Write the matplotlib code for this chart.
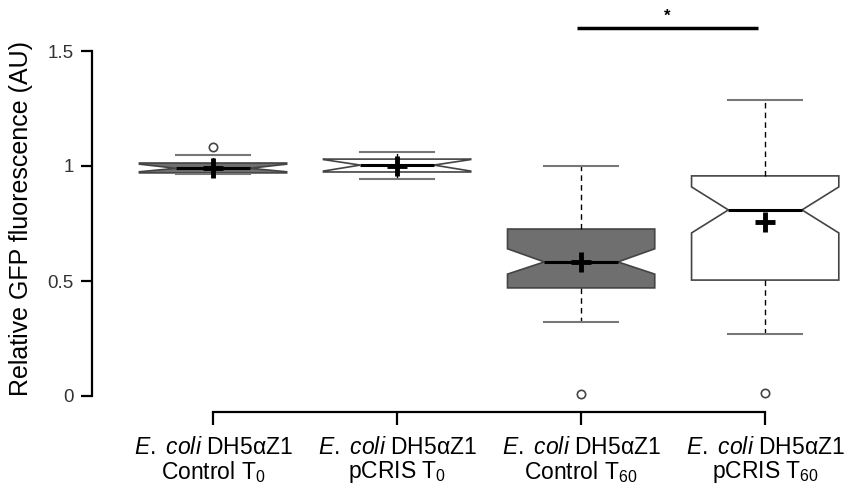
import matplotlib
matplotlib.use("Agg")
import matplotlib.pyplot as plt

plt.rcParams['font.family'] = ['Liberation Sans', 'DejaVu Sans']
plt.rcParams['mathtext.fontset'] = 'custom'
plt.rcParams['mathtext.rm'] = 'Liberation Sans'
plt.rcParams['mathtext.it'] = 'Liberation Sans:italic'

# group labels (x axis)
labels = [r"$\mathit{E.\ coli}$ DH5αZ1" + "\nControl T$_{0}$",
          r"$\mathit{E.\ coli}$ DH5αZ1" + "\npCRIS T$_{0}$",
          r"$\mathit{E.\ coli}$ DH5αZ1" + "\nControl T$_{60}$",
          r"$\mathit{E.\ coli}$ DH5αZ1" + "\npCRIS T$_{60}$"]

# box statistics
medians = [0.990, 1.004, 0.583, 0.809]
q1 = [0.970, 0.974, 0.470, 0.504]
q3 = [1.013, 1.030, 0.726, 0.957]
whislo = [0.965, 0.943, 0.320, 0.270]
whishi = [1.048, 1.060, 1.000, 1.287]
cilo = [0.975, 0.978, 0.530, 0.709]
cihi = [1.008, 1.028, 0.640, 0.909]
means = [0.993, 1.000, 0.583, 0.757]
fliers = [[1.083], [], [0.010], [0.013]]
fills = ['#6f6f6f', 'white', '#6f6f6f', 'white']

stats = []
for i in range(4):
    stats.append(dict(med=medians[i], q1=q1[i], q3=q3[i], whislo=whislo[i],
                      whishi=whishi[i], cilo=cilo[i], cihi=cihi[i],
                      mean=means[i], fliers=fliers[i]))

fig = plt.figure(figsize=(8.48, 4.93), dpi=100)
ax = fig.add_axes([92 / 848, 1 - 412 / 493, 1 - 92 / 848, 412 / 493])

bp = ax.bxp(stats, positions=[1, 2, 3, 4], widths=0.8, shownotches=True,
            showmeans=True, patch_artist=True,
            boxprops=dict(edgecolor='#444444', linewidth=1.2),
            medianprops=dict(color='black', linewidth=2.2),
            whiskerprops=dict(color='black', linewidth=1, linestyle=(0, (4, 3))),
            capprops=dict(color='#777777', linewidth=1.5),
            meanprops=dict(marker='+', markersize=14, markeredgewidth=3.5,
                           markeredgecolor='black'),
            flierprops=dict(marker='o', markersize=6, markerfacecolor='white',
                            markeredgecolor='#444444', markeredgewidth=1.2))
for patch, c in zip(bp['boxes'], fills):
    patch.set_facecolor(c)

# significance bar
ax.plot([2.98, 3.96], [1.60, 1.60], color='black', linewidth=2.5,
        solid_capstyle='butt')
ax.text(3.47, 1.62, '*', ha='center', va='bottom', fontsize=12,
        fontweight='bold')

ax.set_xlim(1 - 121 / 184, 4.45)
ax.set_ylim(-16 / 230, 1.5 + 51 / 230)

ax.set_yticks([0, 0.5, 1, 1.5])
ax.set_yticklabels(['0', '0.5', '1', '1.5'], fontsize=13.5, color='#333333')
ax.set_xticks([1, 2, 3, 4])
ax.set_xticklabels(labels, fontsize=16.5, linespacing=1.0)
ax.tick_params(axis='y', length=8, width=1.6, pad=5)
ax.tick_params(axis='x', length=9, width=1.6, pad=8)

ax.spines['top'].set_visible(False)
ax.spines['right'].set_visible(False)
ax.spines['left'].set_bounds(0, 1.5)
ax.spines['bottom'].set_bounds(1, 4)
ax.spines['left'].set_linewidth(1.6)
ax.spines['bottom'].set_linewidth(1.6)

ax.set_ylabel('Relative GFP fluorescence (AU)', fontsize=18)
ax.yaxis.set_label_coords(-0.078, 0.47)

fig.savefig('out.png', dpi=100)
